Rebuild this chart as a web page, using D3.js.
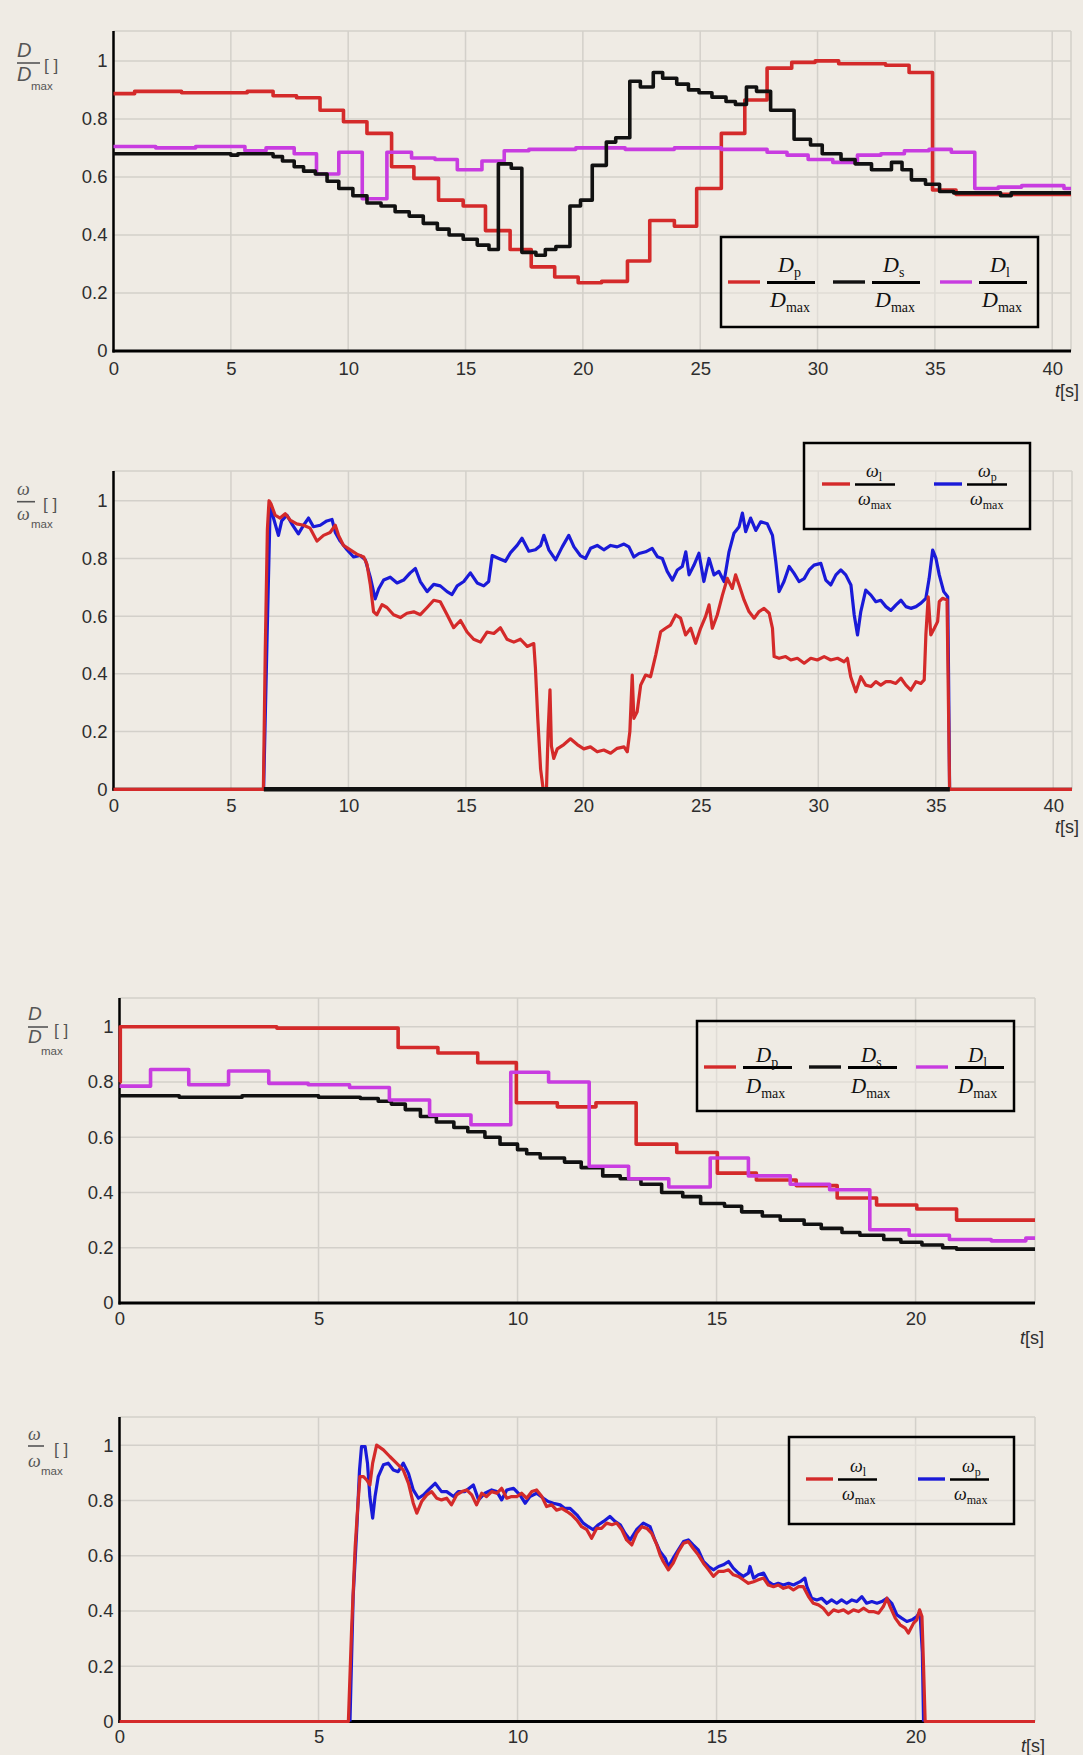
<!DOCTYPE html>
<html><head><meta charset="utf-8">
<script src="https://cdn.jsdelivr.net/npm/d3@7"></script>
<style>html,body{margin:0;padding:0;background:#efebe4;} svg{display:block}</style>
</head><body><div id="chart"></div>
<script>
// ---------- DATA ----------
const yTicks = [0, 0.2, 0.4, 0.6, 0.8, 1];
const xTicksLong = [0, 5, 10, 15, 20, 25, 30, 35, 40];
const xTicksShort = [0, 5, 10, 15, 20];

// Panel 1: D/Dmax, step series [t, value]
const p1Dp = [[0,0.887],[0.9,0.895],[2.9,0.89],[5.7,0.895],[6.8,0.88],[7.8,0.873],[8.8,0.83],[9.8,0.79],[10.8,0.75],[11.85,0.635],[12.8,0.595],[13.85,0.52],[14.9,0.50],[15.85,0.415],[16.9,0.35],[17.8,0.29],[18.8,0.255],[19.8,0.235],[20.8,0.24],[21.9,0.31],[22.85,0.45],[23.9,0.43],[24.85,0.56],[25.9,0.75],[26.9,0.865],[27.85,0.975],[28.9,0.995],[29.9,1.0],[30.9,0.99],[32.9,0.985],[33.9,0.96],[34.9,0.555],[35.9,0.54],[40.8,0.54]];
const p1Ds = [[0,0.68],[5.0,0.675],[5.3,0.68],[6.8,0.67],[7.2,0.655],[7.7,0.635],[8.1,0.62],[8.6,0.61],[9.1,0.585],[9.6,0.56],[10.2,0.535],[10.8,0.51],[11.4,0.50],[12.0,0.48],[12.6,0.465],[13.2,0.44],[13.8,0.42],[14.3,0.40],[14.9,0.385],[15.5,0.365],[16.0,0.35],[16.4,0.645],[16.95,0.63],[17.4,0.34],[18.0,0.33],[18.4,0.35],[18.85,0.36],[19.45,0.50],[19.9,0.52],[20.4,0.64],[21.0,0.72],[21.4,0.735],[22.0,0.93],[22.45,0.91],[23.0,0.96],[23.4,0.94],[24.0,0.92],[24.5,0.90],[24.95,0.89],[25.5,0.875],[26.1,0.86],[26.5,0.85],[26.97,0.91],[27.4,0.895],[28.0,0.83],[29.0,0.73],[29.7,0.71],[30.2,0.68],[31.0,0.66],[31.6,0.645],[32.3,0.625],[33.15,0.65],[33.6,0.625],[34.0,0.59],[34.6,0.575],[35.2,0.55],[35.8,0.545],[37.8,0.535],[38.25,0.545],[40.8,0.545]];
const p1Dl = [[0,0.705],[1.8,0.70],[3.5,0.705],[5.6,0.69],[6.5,0.70],[7.7,0.68],[8.65,0.61],[9.6,0.685],[10.6,0.525],[11.65,0.685],[12.7,0.665],[13.7,0.66],[14.65,0.625],[15.7,0.655],[16.65,0.69],[17.7,0.695],[19.7,0.70],[21.8,0.695],[23.9,0.70],[25.9,0.695],[27.85,0.685],[28.7,0.675],[29.6,0.66],[30.65,0.65],[31.7,0.675],[32.7,0.68],[33.7,0.69],[34.75,0.695],[35.7,0.685],[36.7,0.56],[37.7,0.565],[38.7,0.57],[40.5,0.56],[40.8,0.56]];

// Panel 2: omega/omega_max
const p2Wl = [[0,0],[6.38,0],[6.46,0.48],[6.55,0.9],[6.62,1.0],[6.7,0.99],[6.88,0.95],[7.09,0.94],[7.31,0.955],[7.52,0.933],[7.8,0.92],[8.09,0.915],[8.37,0.905],[8.66,0.86],[8.94,0.88],[9.22,0.89],[9.44,0.915],[9.58,0.88],[9.79,0.845],[10.08,0.83],[10.36,0.815],[10.65,0.805],[10.79,0.78],[10.93,0.71],[11.07,0.615],[11.21,0.605],[11.43,0.64],[11.64,0.63],[11.92,0.605],[12.21,0.595],[12.49,0.61],[12.78,0.615],[13.06,0.605],[13.35,0.63],[13.63,0.655],[13.91,0.65],[14.2,0.605],[14.48,0.56],[14.77,0.585],[15.05,0.545],[15.33,0.52],[15.62,0.51],[15.9,0.545],[16.19,0.54],[16.47,0.56],[16.75,0.52],[17.04,0.51],[17.32,0.52],[17.61,0.495],[17.89,0.505],[17.96,0.42],[18.06,0.245],[18.18,0.07],[18.29,0.0],[18.43,0.0],[18.5,0.2],[18.58,0.345],[18.64,0.15],[18.74,0.107],[18.89,0.14],[19.17,0.155],[19.45,0.175],[19.74,0.155],[20.02,0.14],[20.3,0.147],[20.59,0.13],[20.87,0.136],[21.16,0.125],[21.44,0.142],[21.73,0.147],[21.87,0.13],[21.98,0.2],[22.08,0.396],[22.15,0.246],[22.29,0.269],[22.44,0.361],[22.65,0.396],[22.86,0.39],[23.08,0.465],[23.29,0.546],[23.5,0.558],[23.71,0.569],[23.93,0.604],[24.14,0.593],[24.35,0.535],[24.57,0.558],[24.78,0.506],[24.99,0.558],[25.2,0.598],[25.35,0.639],[25.49,0.558],[25.7,0.604],[25.92,0.673],[26.13,0.731],[26.34,0.696],[26.48,0.743],[26.63,0.708],[26.84,0.656],[27.05,0.616],[27.27,0.593],[27.48,0.616],[27.69,0.627],[27.91,0.61],[28.05,0.558],[28.12,0.46],[28.33,0.454],[28.61,0.46],[28.83,0.448],[29.11,0.454],[29.4,0.437],[29.68,0.454],[29.96,0.448],[30.25,0.46],[30.53,0.448],[30.82,0.454],[31.1,0.442],[31.24,0.454],[31.38,0.39],[31.6,0.338],[31.81,0.39],[32.02,0.361],[32.24,0.356],[32.45,0.373],[32.66,0.361],[32.88,0.373],[33.09,0.373],[33.3,0.367],[33.52,0.385],[33.73,0.361],[33.94,0.344],[34.16,0.373],[34.37,0.367],[34.51,0.379],[34.58,0.535],[34.68,0.667],[34.79,0.535],[34.94,0.558],[35.08,0.581],[35.15,0.65],[35.29,0.662],[35.48,0.656],[35.53,0.36],[35.59,0],[40.8,0]];
const p2Wp = [[6.39,0],[6.53,0.5],[6.67,0.985],[6.81,0.94],[7.02,0.88],[7.16,0.93],[7.38,0.95],[7.59,0.92],[7.87,0.885],[8.09,0.915],[8.3,0.94],[8.51,0.91],[8.8,0.915],[9.08,0.93],[9.3,0.935],[9.44,0.89],[9.65,0.86],[9.94,0.83],[10.22,0.805],[10.5,0.81],[10.72,0.795],[10.93,0.735],[11.14,0.66],[11.29,0.695],[11.5,0.725],[11.78,0.735],[12.07,0.715],[12.35,0.725],[12.63,0.75],[12.85,0.765],[13.06,0.72],[13.35,0.685],[13.63,0.71],[13.91,0.705],[14.2,0.685],[14.41,0.675],[14.63,0.705],[14.91,0.72],[15.19,0.75],[15.48,0.715],[15.76,0.705],[15.97,0.72],[16.12,0.81],[16.4,0.8],[16.68,0.79],[16.9,0.82],[17.18,0.845],[17.39,0.87],[17.68,0.825],[17.96,0.83],[18.18,0.845],[18.32,0.88],[18.53,0.83],[18.82,0.795],[19.1,0.84],[19.38,0.88],[19.6,0.84],[19.87,0.81],[20.09,0.8],[20.31,0.835],[20.59,0.845],[20.87,0.83],[21.16,0.845],[21.44,0.84],[21.73,0.85],[21.94,0.84],[22.15,0.805],[22.37,0.817],[22.65,0.823],[22.93,0.835],[23.15,0.806],[23.36,0.8],[23.57,0.755],[23.79,0.725],[24.0,0.76],[24.21,0.772],[24.36,0.823],[24.5,0.743],[24.71,0.777],[24.92,0.818],[25.13,0.72],[25.35,0.8],[25.56,0.743],[25.77,0.755],[25.99,0.72],[26.2,0.823],[26.41,0.887],[26.63,0.91],[26.77,0.957],[26.91,0.893],[27.12,0.94],[27.34,0.897],[27.55,0.927],[27.83,0.92],[28.05,0.88],[28.19,0.79],[28.33,0.685],[28.54,0.72],[28.76,0.772],[28.97,0.748],[29.18,0.72],[29.4,0.73],[29.61,0.76],[29.82,0.777],[30.11,0.783],[30.32,0.725],[30.53,0.708],[30.75,0.743],[30.96,0.76],[31.17,0.743],[31.39,0.708],[31.53,0.604],[31.67,0.535],[31.81,0.616],[32.02,0.69],[32.24,0.673],[32.45,0.65],[32.66,0.655],[32.88,0.633],[33.09,0.62],[33.3,0.638],[33.52,0.655],[33.73,0.633],[33.94,0.627],[34.16,0.633],[34.37,0.645],[34.58,0.662],[34.72,0.731],[34.87,0.829],[35.01,0.8],[35.15,0.743],[35.34,0.685],[35.51,0.667],[35.55,0.36],[35.59,0]];
const p2Zero = [[6.4,0],[35.6,0]];

// Panel 3: D/Dmax, step series
const p3Dp = [[0,0.8],[0.02,1.0],[3.95,0.995],[7.0,0.925],[8.0,0.905],[9.0,0.87],[9.97,0.725],[11.0,0.71],[11.97,0.725],[12.98,0.575],[14.0,0.545],[15.02,0.47],[16.0,0.445],[17.0,0.425],[18.03,0.38],[19.02,0.355],[20.03,0.34],[21.03,0.30],[23.0,0.30]];
const p3Ds = [[0,0.75],[1.5,0.745],[3.08,0.75],[5.0,0.745],[6.05,0.74],[6.5,0.73],[6.83,0.72],[7.18,0.70],[7.56,0.675],[7.96,0.655],[8.4,0.635],[8.75,0.62],[9.18,0.60],[9.56,0.575],[10.0,0.555],[10.23,0.54],[10.57,0.525],[11.18,0.51],[11.6,0.49],[12.14,0.46],[12.58,0.45],[13.1,0.43],[13.62,0.40],[14.15,0.385],[14.6,0.36],[15.2,0.35],[15.63,0.33],[16.15,0.315],[16.6,0.30],[17.2,0.285],[17.63,0.27],[18.15,0.255],[18.6,0.245],[19.2,0.23],[19.63,0.22],[20.16,0.21],[20.68,0.20],[21.03,0.195],[23.0,0.195]];
const p3Dl = [[0,0.785],[0.78,0.845],[1.74,0.79],[2.74,0.84],[3.75,0.795],[4.74,0.79],[5.78,0.78],[6.78,0.735],[7.79,0.68],[8.83,0.645],[9.83,0.835],[10.78,0.80],[11.8,0.495],[12.79,0.45],[13.8,0.42],[14.84,0.525],[15.8,0.46],[16.85,0.43],[17.84,0.41],[18.85,0.265],[19.84,0.245],[20.85,0.23],[21.9,0.225],[22.77,0.235],[23.0,0.235]];

// Panel 4: omega/omega_max
const p4Wl = [[0,0],[5.75,0],[5.83,0.33],[5.92,0.63],[5.98,0.765],[6.04,0.886],[6.13,0.886],[6.21,0.874],[6.29,0.856],[6.36,0.935],[6.46,1.0],[6.63,0.983],[6.79,0.959],[6.96,0.935],[7.13,0.91],[7.26,0.862],[7.38,0.79],[7.47,0.754],[7.59,0.796],[7.72,0.82],[7.84,0.832],[7.97,0.808],[8.09,0.802],[8.22,0.808],[8.34,0.784],[8.47,0.82],[8.6,0.832],[8.72,0.838],[8.85,0.82],[8.97,0.784],[9.1,0.826],[9.22,0.814],[9.35,0.832],[9.48,0.826],[9.6,0.844],[9.73,0.808],[9.85,0.814],[9.98,0.814],[10.1,0.826],[10.23,0.808],[10.36,0.832],[10.48,0.838],[10.61,0.814],[10.73,0.778],[10.86,0.784],[10.98,0.765],[11.11,0.771],[11.24,0.76],[11.36,0.748],[11.49,0.729],[11.61,0.705],[11.74,0.694],[11.86,0.663],[11.99,0.699],[12.11,0.699],[12.24,0.718],[12.37,0.712],[12.49,0.718],[12.62,0.694],[12.74,0.657],[12.87,0.639],[12.99,0.681],[13.12,0.705],[13.25,0.699],[13.37,0.681],[13.5,0.639],[13.58,0.603],[13.66,0.579],[13.79,0.549],[13.91,0.573],[14.04,0.615],[14.17,0.645],[14.29,0.651],[14.41,0.627],[14.54,0.603],[14.67,0.573],[14.8,0.549],[14.92,0.525],[15.05,0.543],[15.17,0.543],[15.3,0.549],[15.42,0.531],[15.55,0.525],[15.67,0.513],[15.8,0.5],[15.93,0.506],[16.05,0.513],[16.18,0.519],[16.3,0.494],[16.43,0.488],[16.55,0.494],[16.68,0.482],[16.81,0.488],[16.93,0.476],[17.06,0.488],[17.18,0.488],[17.31,0.452],[17.43,0.428],[17.56,0.422],[17.68,0.41],[17.81,0.386],[17.94,0.404],[18.06,0.398],[18.19,0.404],[18.31,0.392],[18.44,0.404],[18.57,0.398],[18.69,0.41],[18.82,0.398],[18.94,0.398],[19.07,0.392],[19.19,0.416],[19.28,0.446],[19.36,0.416],[19.49,0.374],[19.61,0.35],[19.74,0.338],[19.82,0.32],[19.95,0.356],[20.03,0.368],[20.1,0.404],[20.16,0.38],[20.2,0.2],[20.24,0],[23.0,0]];
const p4Wp = [[5.79,0],[5.87,0.452],[5.96,0.693],[6.03,0.91],[6.08,0.995],[6.17,0.995],[6.23,0.935],[6.29,0.814],[6.36,0.736],[6.42,0.814],[6.5,0.886],[6.63,0.929],[6.75,0.935],[6.88,0.91],[7.0,0.904],[7.13,0.935],[7.26,0.898],[7.38,0.838],[7.51,0.808],[7.64,0.82],[7.76,0.838],[7.93,0.862],[8.09,0.832],[8.22,0.832],[8.39,0.814],[8.51,0.832],[8.68,0.832],[8.89,0.856],[9.02,0.802],[9.18,0.826],[9.35,0.838],[9.48,0.832],[9.6,0.802],[9.73,0.838],[9.9,0.844],[10.06,0.82],[10.19,0.79],[10.31,0.814],[10.48,0.826],[10.65,0.808],[10.77,0.796],[10.9,0.79],[11.07,0.784],[11.19,0.771],[11.32,0.771],[11.49,0.748],[11.65,0.718],[11.78,0.705],[11.9,0.694],[12.03,0.712],[12.16,0.724],[12.32,0.742],[12.45,0.724],[12.58,0.712],[12.7,0.681],[12.83,0.657],[12.99,0.694],[13.16,0.718],[13.33,0.705],[13.45,0.657],[13.58,0.615],[13.71,0.591],[13.79,0.561],[13.91,0.591],[14.04,0.621],[14.17,0.651],[14.29,0.657],[14.41,0.639],[14.54,0.621],[14.67,0.579],[14.8,0.561],[14.92,0.549],[15.05,0.561],[15.17,0.567],[15.3,0.579],[15.42,0.555],[15.55,0.537],[15.67,0.525],[15.8,0.537],[15.84,0.561],[15.93,0.519],[16.05,0.531],[16.18,0.537],[16.3,0.506],[16.43,0.494],[16.55,0.5],[16.68,0.494],[16.81,0.5],[16.93,0.494],[17.1,0.506],[17.22,0.519],[17.27,0.488],[17.39,0.446],[17.52,0.44],[17.64,0.446],[17.77,0.428],[17.89,0.44],[18.02,0.428],[18.14,0.44],[18.27,0.428],[18.4,0.44],[18.52,0.434],[18.65,0.452],[18.77,0.428],[18.9,0.434],[19.03,0.428],[19.15,0.434],[19.28,0.446],[19.4,0.428],[19.53,0.386],[19.65,0.374],[19.78,0.362],[19.91,0.368],[20.03,0.38],[20.11,0.398],[20.17,0.25],[20.2,0]];

// ---------- STYLE ----------
const BG = "#efebe4", GRID = "#d3d0ca";
const RED = "#d42a2a", BLACK = "#111111", MAG = "#c83ce0", BLUE = "#1a1ad8";
const SANS = "'Liberation Sans', Arial, sans-serif";
const SERIF = "'Liberation Serif', 'Times New Roman', serif";

const svg = d3.select("#chart").append("svg").attr("width", 1083).attr("height", 1755);
svg.append("rect").attr("width", 1083).attr("height", 1755).attr("fill", BG);

function drawPanel(p) {
  const x = d3.scaleLinear().domain([0, p.xmax]).range([p.left, p.right]);
  const y = d3.scaleLinear().domain([0, p.ymax]).range([p.bottom, p.top]);
  const g = svg.append("g");
  // grid
  g.append("g").selectAll("line").data(p.xticks.filter(d => d > 0)).join("line")
    .attr("x1", d => x(d)).attr("x2", d => x(d)).attr("y1", y(p.ymax)).attr("y2", y(0))
    .attr("stroke", GRID).attr("stroke-width", 1.5);
  g.append("g").selectAll("line").data(yTicks.filter(d => d > 0)).join("line")
    .attr("x1", x(0)).attr("x2", x(p.xmax)).attr("y1", d => y(d)).attr("y2", d => y(d))
    .attr("stroke", GRID).attr("stroke-width", 1.5);
  // top / right frame
  g.append("line").attr("x1", x(0)).attr("x2", x(p.xmax)).attr("y1", y(p.ymax)).attr("y2", y(p.ymax))
    .attr("stroke", GRID).attr("stroke-width", 1.5);
  g.append("line").attr("x1", x(p.xmax)).attr("x2", x(p.xmax)).attr("y1", y(p.ymax)).attr("y2", y(0))
    .attr("stroke", GRID).attr("stroke-width", 1.5);
  // axes lines (drawn under the series)
  g.append("line").attr("x1", x(0)).attr("x2", x(0)).attr("y1", y(p.ymax)).attr("y2", y(0) + 1.5)
    .attr("stroke", "#000").attr("stroke-width", 2.5);
  g.append("line").attr("x1", x(0) - 1).attr("x2", x(p.xmax)).attr("y1", y(0)).attr("y2", y(0))
    .attr("stroke", "#000").attr("stroke-width", p.baseW || 3);
  // series
  p.series.forEach(s => {
    const line = d3.line().x(d => x(d[0])).y(d => y(d[1]))
      .curve(s.step ? d3.curveStepAfter : d3.curveLinear);
    g.append("path").datum(s.data).attr("d", line).attr("fill", "none")
      .attr("stroke", s.color).attr("stroke-width", s.w || 3.6)
      .attr("stroke-linejoin", "round").attr("stroke-linecap", "butt");
  });
  // tick labels
  const ay = g.append("g").attr("transform", `translate(${x(0)},0)`)
    .call(d3.axisLeft(y).tickValues(yTicks).tickSize(0).tickPadding(6).tickFormat(d => String(d)));
  ay.select(".domain").remove();
  ay.attr("font-family", SANS).attr("font-size", 18.5);
  ay.selectAll("text").attr("fill", "#2e2e2e");
  const ax = g.append("g").attr("transform", `translate(0,${y(0)})`)
    .call(d3.axisBottom(x).tickValues(p.xticks).tickSize(0).tickPadding(p.xpad).tickFormat(d => String(d)));
  ax.select(".domain").remove();
  ax.attr("font-family", SANS).attr("font-size", 18.5);
  ax.selectAll("text").attr("fill", "#2e2e2e");
  // t[s]
  const tl = g.append("text").attr("x", p.tsX).attr("y", p.tsY).attr("font-family", SANS)
    .attr("font-size", 18).attr("fill", "#2e2e2e");
  tl.append("tspan").attr("font-style", "italic").text("t");
  tl.append("tspan").text("[s]");
  // y title
  const t = p.ytitle;
  const yt = g.append("g").attr("fill", "#555");
  yt.append("text").attr("x", t.x).attr("y", t.numY).attr("font-family", t.font).attr("font-style", "italic")
    .attr("font-size", t.size).text(t.sym);
  yt.append("line").attr("x1", t.x).attr("x2", t.x + t.barW).attr("y1", t.barY).attr("y2", t.barY)
    .attr("stroke", "#555").attr("stroke-width", 1.6);
  yt.append("text").attr("x", t.x).attr("y", t.denY).attr("font-family", t.font).attr("font-style", "italic")
    .attr("font-size", t.size).text(t.sym);
  yt.append("text").attr("x", t.maxX).attr("y", t.maxY).attr("font-family", SANS)
    .attr("font-size", t.maxSize).text("max");
  yt.append("text").attr("x", t.brX).attr("y", t.brY).attr("font-family", SANS)
    .attr("font-size", 17).text("[ ]");
  // legend
  const L = p.legend;
  g.append("rect").attr("x", L.x).attr("y", L.y).attr("width", L.w).attr("height", L.h)
    .attr("fill", BG).attr("fill-opacity", 0.45).attr("stroke", "#000").attr("stroke-width", 2.5);
  L.items.forEach(it => {
    const lg = g.append("g");
    lg.append("line").attr("x1", it.L).attr("x2", it.L + L.lineW).attr("y1", L.ly).attr("y2", L.ly)
      .attr("stroke", it.color).attr("stroke-width", 3.4);
    lg.append("line").attr("x1", it.L + L.barX).attr("x2", it.L + L.barX + L.barW)
      .attr("y1", L.ly + 0.5).attr("y2", L.ly + 0.5).attr("stroke", "#000").attr("stroke-width", L.barT);
    const num = lg.append("text").attr("x", it.L + L.numX).attr("y", L.ly + L.numDy)
      .attr("font-family", SERIF).attr("fill", "#111");
    num.append("tspan").attr("font-style", "italic").attr("font-size", L.size).text(L.sym);
    num.append("tspan").attr("font-size", L.subSize).attr("dy", L.subDy).text(it.sub);
    const den = lg.append("text").attr("x", it.L + L.denX).attr("y", L.ly + L.denDy)
      .attr("font-family", SERIF).attr("fill", "#111");
    den.append("tspan").attr("font-style", "italic").attr("font-size", L.size).text(L.sym);
    den.append("tspan").attr("font-size", L.subSize).attr("dy", L.subDy).text("max");
  });
}

// Panel 1
drawPanel({
  left: 113.5, right: 1071, top: 31, bottom: 351, xmax: 40.8, ymax: 1.103, xticks: xTicksLong, xpad: 11,
  series: [
    {data: p1Dp, color: RED, step: true},
    {data: p1Dl, color: MAG, step: true},
    {data: p1Ds, color: BLACK, step: true}
  ],
  tsX: 1055, tsY: 397,
  ytitle: {x: 17, sym: "D", font: SANS, size: 20, numY: 57, barY: 63, barW: 23, denY: 81, maxX: 31, maxY: 90, maxSize: 11.5, brX: 44, brY: 71},
  legend: {x: 721, y: 237, w: 317, h: 90, ly: 282, lineW: 32, barX: 39, barW: 48, barT: 3, numX: 50, numDy: -10, denX: 42, denDy: 25,
    sym: "D", size: 22, subSize: 14, subDy: 5,
    items: [{L: 728, color: RED, sub: "p"}, {L: 833, color: BLACK, sub: "s"}, {L: 940, color: MAG, sub: "l"}]}
});

// Panel 2
drawPanel({
  left: 113.5, right: 1072, top: 471, bottom: 789.3, xmax: 40.8, ymax: 1.103, xticks: xTicksLong, xpad: 10,
  series: [
    {data: p2Wp, color: BLUE, w: 3.2},
    {data: p2Wl, color: RED, w: 3.2},
    {data: p2Zero, color: BLACK, w: 4.5}
  ],
  tsX: 1055, tsY: 833,
  ytitle: {x: 17, sym: "ω", font: SERIF, size: 18, numY: 495, barY: 501.7, barW: 18, denY: 520, maxX: 31, maxY: 528, maxSize: 11.5, brX: 43, brY: 510},
  legend: {x: 804, y: 443, w: 226, h: 86, ly: 484, lineW: 28, barX: 33, barW: 40, barT: 2.5, numX: 44, numDy: -7, denX: 36, denDy: 21,
    sym: "ω", size: 18, subSize: 12, subDy: 4,
    items: [{L: 822, color: RED, sub: "l"}, {L: 934, color: BLUE, sub: "p"}]}
});

// Panel 3
drawPanel({
  left: 119.5, right: 1035, top: 998, bottom: 1303, xmax: 23.0, ymax: 1.104, xticks: xTicksShort, xpad: 9,
  series: [
    {data: p3Dp, color: RED, step: true},
    {data: p3Ds, color: BLACK, step: true},
    {data: p3Dl, color: MAG, step: true}
  ],
  tsX: 1020, tsY: 1344,
  ytitle: {x: 28, sym: "D", font: SANS, size: 19, numY: 1020, barY: 1027, barW: 20, denY: 1043, maxX: 41, maxY: 1055, maxSize: 11.5, brX: 54, brY: 1036},
  legend: {x: 697, y: 1021, w: 317, h: 90, ly: 1067, lineW: 32, barX: 39, barW: 49, barT: 3, numX: 52, numDy: -5, denX: 42, denDy: 26,
    sym: "D", size: 21, subSize: 14, subDy: 5,
    items: [{L: 704, color: RED, sub: "p"}, {L: 809, color: BLACK, sub: "s"}, {L: 916, color: MAG, sub: "l"}]}
});

// Panel 4
drawPanel({
  left: 119.5, right: 1035, top: 1417, bottom: 1721.5, xmax: 23.0, ymax: 1.102, xticks: xTicksShort, xpad: 8,
  series: [
    {data: p4Wp, color: BLUE, w: 3.2},
    {data: p4Wl, color: RED, w: 3.2}
  ],
  tsX: 1021, tsY: 1752,
  ytitle: {x: 28, sym: "ω", font: SERIF, size: 18, numY: 1440, barY: 1446, barW: 16, denY: 1467, maxX: 41, maxY: 1475, maxSize: 11.5, brX: 54, brY: 1455},
  legend: {x: 789, y: 1437, w: 225, h: 87, ly: 1479, lineW: 27, barX: 32, barW: 39, barT: 2.5, numX: 44, numDy: -7, denX: 36, denDy: 21,
    sym: "ω", size: 18, subSize: 12, subDy: 4,
    items: [{L: 806, color: RED, sub: "l"}, {L: 918, color: BLUE, sub: "p"}]}
});
</script>
</body></html>
